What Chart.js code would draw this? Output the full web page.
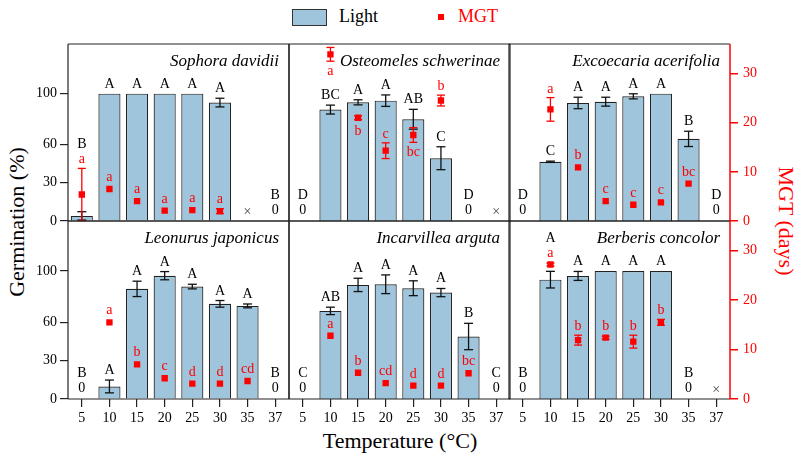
<!DOCTYPE html>
<html><head><meta charset="utf-8">
<script src="https://cdn.jsdelivr.net/npm/chart.js@4/dist/chart.umd.min.js"></script>
<style>
body{margin:0;background:#fff;}
#wrap{position:relative;width:800px;height:463px;overflow:hidden;background:#fff;font-family:'Liberation Serif',serif;}
#wrap canvas{position:absolute;}
.t{position:absolute;white-space:nowrap;font-size:18px;line-height:1;font-family:'Liberation Serif',serif;}
.big{font-size:22px;}
</style></head><body>
<div id="wrap">
  <div style="position:absolute;left:292px;top:9px;width:35px;height:17px;background:#9ec5db;border:1.5px solid #333;box-sizing:border-box;"></div>
  <div class="t" style="left:339px;top:7px;color:#000;">Light</div>
  <div style="position:absolute;left:438px;top:14px;width:6px;height:6px;background:#ff0000;"></div>
  <div class="t" style="left:458px;top:7px;color:#ff0000;">MGT</div>
  <div class="t big" style="left:400px;top:441px;transform:translate(-50%,-50%);">Temperature (°C)</div>
  <div class="t big" style="left:17px;top:222px;transform:translate(-50%,-50%) rotate(-90deg);">Germination (%)</div>
  <div class="t big" style="left:786px;top:221px;transform:translate(-50%,-50%) rotate(90deg);color:#ff0000;">MGT (days)</div>
</div>
<script>
// ---- data ----
const temperatures = ['5','10','15','20','25','30','35','37'];
const speciesNames = ['Sophora davidii','Osteomeles schwerinae','Excoecaria acerifolia','Leonurus japonicus','Incarvillea arguta','Berberis concolor'];
const germTicks = [0,30,60,100];
const mgtTicks = [0,10,20,30];

// null = not tested (×)
const germSophora = [4,100,100,100,100,93,null,0];
const germErrSophora = [3.3,0,0,0,0,3.4,0,0];
const germLetSophora = ['B','A','A','A','A','A','','B'];
const mgtSophora = [5.4,6.5,4.05,2.1,2.2,2.0,null,null];
const mgtErrSophora = [5.3,0,0,0,0,0.5,0,0];
const mgtLetSophora = ['a','a','a','a','a','a','',''];

const germOsteomeles = [0,87.5,93.2,94.5,79.9,49.3,0,null];
const germErrOsteomeles = [0,3.5,2,4.5,7.8,9,0,0];
const germLetOsteomeles = ['D','BC','A','A','AB','C','D',''];
const mgtOsteomeles = [null,33.9,21.0,14.3,17.5,24.5,null,null];
const mgtErrOsteomeles = [0,1.4,0.4,1.6,1.5,1.1,0,0];
const mgtLetOsteomeles = ['','a','b','c','bc','b','',''];

const germExcoecaria = [0,46.5,92.7,93.7,97.9,100,64.5,0];
const germErrExcoecaria = [0,0.5,4.5,3.5,2,0,6,0];
const germLetExcoecaria = ['D','C','A','A','A','A','B','D'];
const mgtExcoecaria = [null,22.7,10.9,4.05,3.3,3.8,7.6,null];
const mgtErrExcoecaria = [0,2.4,0,0,0,0,0,0];
const mgtLetExcoecaria = ['','a','b','c','c','c','bc',''];

const germLeonurus = [0,9.8,86,96.3,87.8,74.3,72.7,0];
const germErrLeonurus = [0,5,6,3.2,1.8,2.6,1.5,0];
const germLetLeonurus = ['B','A','A','A','A','A','A','B'];
const mgtLeonurus = [null,15.5,7.0,4.2,3.1,3.1,3.65,null];
const mgtErrLeonurus = [0,0,0,0,0,0,0,0];
const mgtLetLeonurus = ['','a','b','c','d','d','cd',''];

const germIncarvillea = [0,68.8,89.1,89.6,86.5,83.1,48.8,0];
const germErrIncarvillea = [0,2.9,5.2,7.3,5.8,3.2,10.3,0];
const germLetIncarvillea = ['C','AB','A','A','A','A','B','C'];
const mgtIncarvillea = [null,12.8,5.3,3.2,2.7,2.7,5.2,null];
const mgtErrIncarvillea = [0,0,0,0,0,0,0,0];
const mgtLetIncarvillea = ['','a','b','cd','d','d','bc',''];

const germBerberis = [0,93.2,96.1,100,100,100,0,null];
const germErrBerberis = [0,6.5,3.5,0,0,0,0,0];
const germLetBerberis = ['B','A','A','A','A','A','B',''];
const mgtBerberis = [null,27.2,11.9,12.4,11.6,15.5,null,null];
const mgtErrBerberis = [0,0.3,1,0.3,1.3,0.6,0,0];
const mgtLetBerberis = ['','a','b','b','b','b','',''];

// label placement (layout, not data)
const mgtLabelSide = [
  ['above','above','above','above','above','above','above','above'],
  ['above','below','below','above','below','above','above','above'],
  ['above','above','above','above','above','above','above','above'],
  ['above','above','above','above','above','above','above','above'],
  ['above','above','above','above','above','above','above','above'],
  ['above','above','above','above','above','above','above','above']
];

const panels = [
  {name:speciesNames[0], germ:germSophora, germErr:germErrSophora, germLet:germLetSophora, mgt:mgtSophora, mgtErr:mgtErrSophora, mgtLet:mgtLetSophora},
  {name:speciesNames[1], germ:germOsteomeles, germErr:germErrOsteomeles, germLet:germLetOsteomeles, mgt:mgtOsteomeles, mgtErr:mgtErrOsteomeles, mgtLet:mgtLetOsteomeles},
  {name:speciesNames[2], germ:germExcoecaria, germErr:germErrExcoecaria, germLet:germLetExcoecaria, mgt:mgtExcoecaria, mgtErr:mgtErrExcoecaria, mgtLet:mgtLetExcoecaria},
  {name:speciesNames[3], germ:germLeonurus, germErr:germErrLeonurus, germLet:germLetLeonurus, mgt:mgtLeonurus, mgtErr:mgtErrLeonurus, mgtLet:mgtLetLeonurus},
  {name:speciesNames[4], germ:germIncarvillea, germErr:germErrIncarvillea, germLet:germLetIncarvillea, mgt:mgtIncarvillea, mgtErr:mgtErrIncarvillea, mgtLet:mgtLetIncarvillea},
  {name:speciesNames[5], germ:germBerberis, germErr:germErrBerberis, germLet:germLetBerberis, mgt:mgtBerberis, mgtErr:mgtErrBerberis, mgtLet:mgtLetBerberis}
];

// ---- layout ----
const colLeft = [68, 289, 509];
const colW = 221;
const rowTop = [44, 221];
const rowH = [177, 178];
const FONT = '"Liberation Serif", "Times New Roman", serif';
const BAR = '#9ec5db', RED = '#ff0000', INK = '#222';

function line(ctx, x1, y1, x2, y2) { ctx.beginPath(); ctx.moveTo(x1, y1); ctx.lineTo(x2, y2); ctx.stroke(); }

const panelPlugin = {
  id: 'panelPlugin',
  beforeDatasetDraw(chart, args) {
    if (args.index !== 1) return;
    const p = chart.canvas.$p; if (!p) return;
    const ctx = chart.ctx, xs = chart.scales.x, ys = chart.scales.y, y2 = chart.scales.y2;
    ctx.save();
    ctx.lineWidth = 1.3; ctx.strokeStyle = '#111';
    p.germ.forEach((v, i) => {
      const e = p.germErr[i];
      if (v == null || !e) return;
      const cx = xs.getPixelForValue(i);
      const t = ys.getPixelForValue(v + e), b = ys.getPixelForValue(Math.max(0, v - e));
      line(ctx, cx, t, cx, b); line(ctx, cx - 4.5, t, cx + 4.5, t); line(ctx, cx - 4.5, b, cx + 4.5, b);
    });
    ctx.strokeStyle = RED;
    p.mgt.forEach((m, i) => {
      const e = p.mgtErr[i];
      if (m == null || !e) return;
      const cx = xs.getPixelForValue(i);
      const t = y2.getPixelForValue(m + e), b = y2.getPixelForValue(Math.max(0, m - e));
      line(ctx, cx, t, cx, b); line(ctx, cx - 4, t, cx + 4, t); line(ctx, cx - 4, b, cx + 4, b);
    });
    ctx.restore();
  },
  afterDatasetsDraw(chart) {
    const p = chart.canvas.$p; if (!p) return;
    const ctx = chart.ctx, xs = chart.scales.x, ys = chart.scales.y, y2 = chart.scales.y2, ca = chart.chartArea;
    const side = mgtLabelSide[chart.canvas.$idx];
    ctx.save();
    ctx.font = '14px ' + FONT;
    ctx.textAlign = 'center'; ctx.textBaseline = 'alphabetic';
    const base = ca.bottom;
    p.germ.forEach((v, i) => {
      const cx = xs.getPixelForValue(i);
      let mBase = null, mBot = null;
      const m = p.mgt[i];
      if (m != null) {
        const c = y2.getPixelForValue(m);
        const eP = p.mgtErr[i] ? c - y2.getPixelForValue(m + p.mgtErr[i]) : 0;
        mBot = c + Math.max(3, eP);
        mBase = side[i] === 'below' ? c + Math.max(3, eP) + 14 : c - Math.max(3, eP) - 5;
        ctx.fillStyle = RED;
        ctx.fillText(p.mgtLet[i], cx, mBase);
      }
      ctx.fillStyle = '#000';
      if (v == null) {
        ctx.fillStyle = '#444'; ctx.textBaseline = 'middle';
        ctx.fillText('\u00d7', cx, base - 9);
        ctx.textBaseline = 'alphabetic';
        return;
      }
      if (v === 0) {
        ctx.fillText('0', cx, base - 7);
        ctx.fillText(p.germLet[i], cx, base - 22);
        return;
      }
      const top = ys.getPixelForValue(v + (p.germErr[i] || 0));
      let gb = top - 6;
      if (mBase != null && mBase < top && mBot > gb - 14) gb = Math.min(gb, mBase - 15);
      ctx.fillText(p.germLet[i], cx, gb);
    });
    ctx.font = 'italic 17px ' + FONT;
    ctx.textAlign = 'right';
    ctx.fillStyle = '#000';
    ctx.fillText(p.name, ca.right - 10, ca.top + 22);
    ctx.restore();
  },
  afterDraw(chart) {
    const ctx = chart.ctx, ca = chart.chartArea;
    ctx.save();
    ctx.lineWidth = 1.2; ctx.strokeStyle = INK;
    line(ctx, ca.left, ca.top, ca.right, ca.top);
    line(ctx, ca.left, ca.bottom, ca.right, ca.bottom);
    line(ctx, ca.left, ca.top, ca.left, ca.bottom);
    if (chart.canvas.$col === 2) { ctx.strokeStyle = RED; ctx.lineWidth = 1.5; }
    line(ctx, ca.right, ca.top, ca.right, ca.bottom);
    ctx.restore();
  }
};

const wrap = document.getElementById('wrap');
panels.forEach((p, idx) => {
  const row = Math.floor(idx / 3), col = idx % 3;
  const padL = col === 0 ? colLeft[0] : 5;
  const padR = col === 2 ? 800 - (colLeft[2] + colW) : 5;
  const padT = 5;
  const padB = row === 1 ? 40 : 5;
  const cv = document.createElement('canvas');
  const W = padL + colW + padR, H = padT + rowH[row] + padB;
  cv.width = W; cv.height = H;
  cv.style.left = (colLeft[col] - padL) + 'px';
  cv.style.top = (rowTop[row] - padT) + 'px';
  cv.style.width = W + 'px'; cv.style.height = H + 'px';
  cv.$p = p; cv.$idx = idx; cv.$col = col;
  wrap.appendChild(cv);
  const showX = row === 1, showY = col === 0, showY2 = col === 2;
  new Chart(cv, {
    data: {
      labels: temperatures,
      datasets: [
        {type: 'bar', label: 'Light', data: p.germ, yAxisID: 'y', order: 2,
         backgroundColor: BAR, borderColor: INK, borderWidth: 1.2, borderSkipped: 'start',
         barPercentage: 0.8, categoryPercentage: 1},
        {type: 'line', label: 'MGT', data: p.mgt, yAxisID: 'y2', order: 1, showLine: false,
         pointStyle: 'rect', pointRadius: 4.5, pointBackgroundColor: RED, pointBorderColor: RED, pointBorderWidth: 0}
      ]
    },
    options: {
      responsive: false, animation: false, devicePixelRatio: 1, events: [],
      layout: {padding: {left: col === 0 ? 0 : 5, right: col === 2 ? 0 : 5, top: 5, bottom: row === 1 ? 0 : 5}},
      plugins: {legend: {display: false}, tooltip: {enabled: false}},
      scales: {
        x: {
          type: 'category', display: showX, offset: true,
          grid: {offset: false, drawOnChartArea: false, drawTicks: true, tickLength: 8, color: INK, lineWidth: 1.2},
          border: {display: false},
          ticks: {font: {family: FONT, size: 14}, color: '#000', padding: 3, maxRotation: 0, autoSkip: false},
          afterFit: s => { if (!showX) { s.height = 0; return; } s.height = 40; s.paddingLeft = 0; s.paddingRight = 0; }
        },
        y: {
          position: 'left', display: showY, min: 0, max: 139,
          afterBuildTicks: s => { s.ticks = germTicks.map(v => ({value: v})); },
          grid: {drawOnChartArea: false, drawTicks: true, tickLength: 8, color: INK, lineWidth: 1.2},
          border: {display: false},
          ticks: {font: {family: FONT, size: 14}, color: '#000', padding: 3},
          afterFit: s => { if (!showY) { s.width = 0; return; } s.width = colLeft[0]; s.paddingTop = 0; s.paddingBottom = 0; }
        },
        y2: {
          position: 'right', display: showY2, min: 0, max: 36,
          afterBuildTicks: s => { s.ticks = mgtTicks.map(v => ({value: v})); },
          grid: {drawOnChartArea: false, drawTicks: true, tickLength: 8, color: RED, lineWidth: 1.5},
          border: {display: false},
          ticks: {font: {family: FONT, size: 14}, color: RED, padding: 5},
          afterFit: s => { if (!showY2) { s.width = 0; return; } s.width = 800 - (colLeft[2] + colW); s.paddingTop = 0; s.paddingBottom = 0; }
        }
      }
    },
    plugins: [panelPlugin]
  });
});
</script>
</body></html>
